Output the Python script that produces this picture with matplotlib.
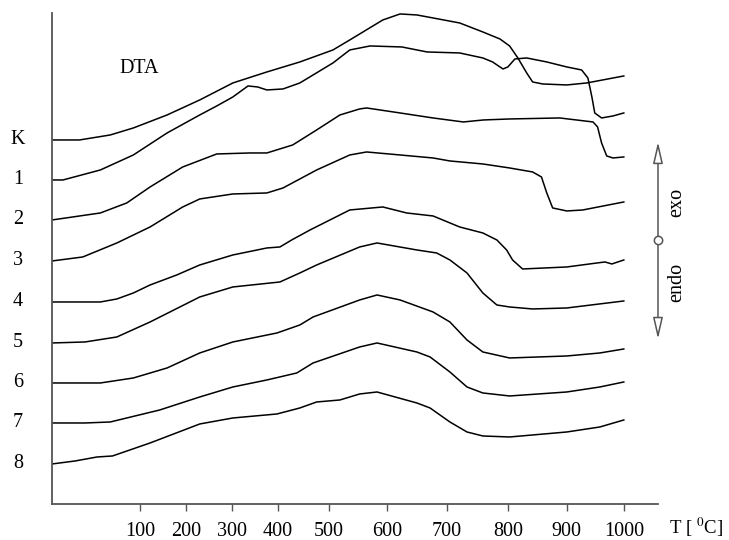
import numpy as np
import matplotlib
matplotlib.use('Agg')
import matplotlib.pyplot as plt

plt.rcParams['font.family'] = 'serif'
plt.rcParams['font.serif'] = ['Liberation Serif', 'DejaVu Serif']
plt.rcParams['mathtext.fontset'] = 'stix'

# DTA curves, temperature [C] and signal height (a.u.)
labels = ['K', '1', '2', '3', '4', '5', '6', '7', '8']

t_k = [20, 45, 73, 94, 159, 230, 302, 376, 443, 507, 536, 593, 622, 650, 677, 721,
       759, 787, 803, 817, 832, 842, 859, 900, 935, 1000]
y_k = [364, 364, 369, 376, 389, 404, 421, 432, 442, 454, 464, 484, 490, 489, 486, 481,
       472, 465, 458, 446, 431, 422, 420, 419, 421, 428]

t_1 = [20, 30, 64, 94, 159, 230, 267, 302, 335, 356, 376, 410, 443, 507, 536, 571, 625,
       667, 721, 759, 775, 792, 800, 812, 832, 866, 900, 926, 937, 944, 949, 961, 981, 1000]
y_1 = [324, 324, 334, 349, 371, 389, 398, 407, 418, 417, 414, 415, 421, 441, 454, 458, 457,
       452, 451, 446, 442, 435, 437, 445, 446, 442, 437, 434, 426, 407, 391, 386, 388, 391]

t_2 = [20, 64, 88, 122, 193, 267, 339, 376, 429, 476, 519, 553, 565, 622, 677, 727, 760,
       803, 888, 946, 954, 961, 970, 981, 1000]
y_2 = [284, 291, 301, 317, 337, 350, 351, 351, 359, 374, 389, 395, 396, 391, 386, 382, 384,
       385, 386, 382, 377, 361, 348, 346, 347]

t_3 = [20, 48, 79, 122, 193, 230, 302, 376, 410, 476, 536, 565, 622, 677, 705, 759, 803,
       842, 857, 866, 876, 900, 928, 1000]
y_3 = [243, 247, 261, 277, 297, 305, 310, 311, 316, 334, 349, 352, 349, 346, 343, 340, 336,
       332, 327, 311, 296, 293, 294, 302]

t_4 = [20, 64, 79, 94, 122, 180, 230, 302, 376, 404, 427, 463, 536, 593, 633, 677, 721,
       759, 782, 798, 808, 825, 900, 953, 967, 979, 1000]
y_4 = [202, 202, 205, 211, 219, 229, 239, 249, 256, 257, 264, 274, 294, 297, 291, 288, 277,
       271, 264, 254, 244, 235, 237, 241, 242, 240, 244]

t_5 = [20, 50, 79, 122, 230, 302, 404, 443, 476, 553, 583, 650, 683, 705, 733, 759, 782,
       803, 842, 900, 1000]
y_5 = [161, 162, 167, 182, 207, 217, 222, 231, 239, 257, 261, 254, 251, 244, 231, 211, 199,
       197, 195, 196, 203]

t_6 = [20, 64, 94, 159, 230, 302, 398, 443, 469, 553, 583, 622, 677, 705, 733, 759, 803,
       900, 958, 1000]
y_6 = [121, 121, 126, 136, 151, 162, 171, 179, 187, 204, 209, 204, 192, 182, 164, 152, 146,
       148, 151, 155]

t_7 = [20, 50, 73, 143, 230, 302, 376, 437, 469, 553, 583, 650, 672, 705, 733, 759, 803,
       900, 958, 1000]
y_7 = [81, 81, 82, 94, 107, 117, 124, 131, 141, 157, 161, 152, 147, 132, 117, 111, 108,
       112, 117, 122]

t_8 = [20, 41, 61, 75, 122, 230, 302, 398, 443, 476, 519, 553, 583, 650, 672, 705, 733,
       759, 803, 900, 958, 1000]
y_8 = [40, 43, 47, 48, 61, 80, 86, 90, 96, 102, 104, 110, 112, 101, 96, 82, 72,
       68, 67, 72, 77, 84]

curves = [(t_k, y_k), (t_1, y_1), (t_2, y_2), (t_3, y_3), (t_4, y_4),
          (t_5, y_5), (t_6, y_6), (t_7, y_7), (t_8, y_8)]

xticks = [100, 200, 300, 400, 500, 600, 700, 800, 900, 1000]

# the temperature axis of the original is not linear
axis_t = [0, 20, 100, 200, 300, 400, 500, 600, 700, 800, 900, 1000, 1100]
axis_pos = [30, 52, 140, 186, 232, 278, 329, 387, 447, 508, 567, 624, 681]


def fwd(t):
    return np.interp(t, axis_t, axis_pos)


def inv(p):
    return np.interp(p, axis_pos, axis_t)


fig = plt.figure(figsize=(7.29, 5.40), dpi=100)
ax = fig.add_axes([0.0713, 0.0667, 0.8313, 0.9093])
ax.set_xscale('function', functions=(fwd, inv))

for (t, y), lab in zip(curves, labels):
    ax.plot(t, y, color='black', linewidth=1.1, solid_joinstyle='round')
    ax.text(-0.056, y[0], lab, transform=ax.get_yaxis_transform(),
            ha='center', va='center', fontsize=14.5)

ax.set_xlim(20, 1060)
ax.set_ylim(0, 491)
ax.set_xticks(xticks)
ax.set_xticklabels([str(v) for v in xticks], fontsize=14.5)
ax.set_yticks([])
ax.tick_params(axis='x', direction='out', length=5, width=1, color='#555555', pad=8)
for side in ['top', 'right']:
    ax.spines[side].set_visible(False)
for side in ['left', 'bottom']:
    ax.spines[side].set_color('#555555')
    ax.spines[side].set_linewidth(1.3)

ax.text(0.1436, 0.886, 'DTA', transform=ax.transAxes, ha='center', va='center', fontsize=14.5)
ax.text(1.107, -0.061, r'T [ $^{0}$C]', transform=ax.transAxes, ha='right', va='baseline',
        fontsize=13.5)

# exo / endo arrow
arrow_kw = dict(arrowstyle='-|>,head_length=1.3,head_width=0.3', color='#555555',
                fc='white', lw=1.1, shrinkA=0, shrinkB=0)
ax.annotate('', xy=(1060, 362), xytext=(1060, 264), arrowprops=arrow_kw, annotation_clip=False)
ax.annotate('', xy=(1060, 165), xytext=(1060, 264), arrowprops=arrow_kw, annotation_clip=False)
ax.plot([1060], [264], marker='o', markersize=6, mfc='white', mec='#555555', mew=1.1,
        clip_on=False, zorder=5)
ax.text(1.031, 0.615, 'exo', transform=ax.transAxes, rotation=90, ha='center', va='center',
        fontsize=14.5)
ax.text(1.031, 0.452, 'endo', transform=ax.transAxes, rotation=90, ha='center', va='center',
        fontsize=14.5)

fig.savefig('out.png', dpi=100)
